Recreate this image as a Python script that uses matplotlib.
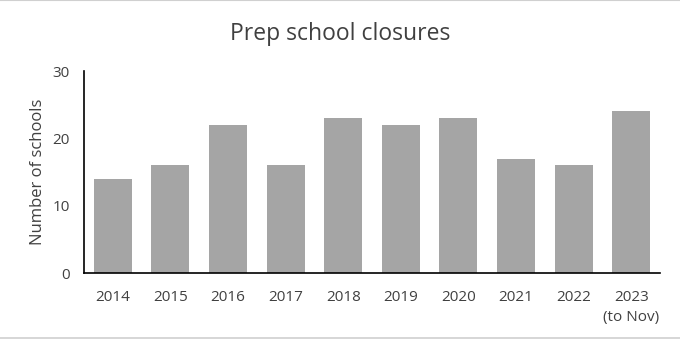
import matplotlib.pyplot as plt
from matplotlib.lines import Line2D

plt.rcParams['font.family'] = ['Open Sans', 'DejaVu Sans']

years = ['2014', '2015', '2016', '2017', '2018', '2019', '2020', '2021', '2022', '2023\n(to Nov)']
closures = [14, 16, 22, 16, 23, 22, 23, 17, 16, 24]

fig = plt.figure(figsize=(6.8, 3.4), dpi=100)
ax = fig.add_axes([0.1235, 0.197, 0.847, 0.594])

ax.bar(range(len(years)), closures, width=0.66, color='#a5a5a5')
ax.set_xlim(-0.5, len(years) - 0.5)
ax.set_ylim(0, 30)
ax.set_yticks([0, 10, 20, 30])
ax.set_xticks(range(len(years)))
ax.set_xticklabels(years, linespacing=1.45)

for s in ['top', 'right']:
    ax.spines[s].set_visible(False)
for s in ['left', 'bottom']:
    ax.spines[s].set_color('black')
    ax.spines[s].set_linewidth(1.2)
ax.tick_params(axis='both', length=0, labelsize=11, colors='#404040')
ax.tick_params(axis='x', pad=12)
ax.tick_params(axis='y', pad=10)

ax.set_ylabel('Number of schools', fontsize=12, color='#404040', labelpad=5)
fig.text(0.5, 0.9, 'Prep school closures', ha='center', va='center',
         fontsize=16.5, color='#404040')

# thin grey frame lines at top and bottom of the image
fig.add_artist(Line2D([0, 1], [0.999, 0.999], color='#d0d0d0', lw=1.5))
fig.add_artist(Line2D([0, 1], [0.006, 0.006], color='#d0d0d0', lw=1.2))

fig.savefig('out.png', dpi=100)
